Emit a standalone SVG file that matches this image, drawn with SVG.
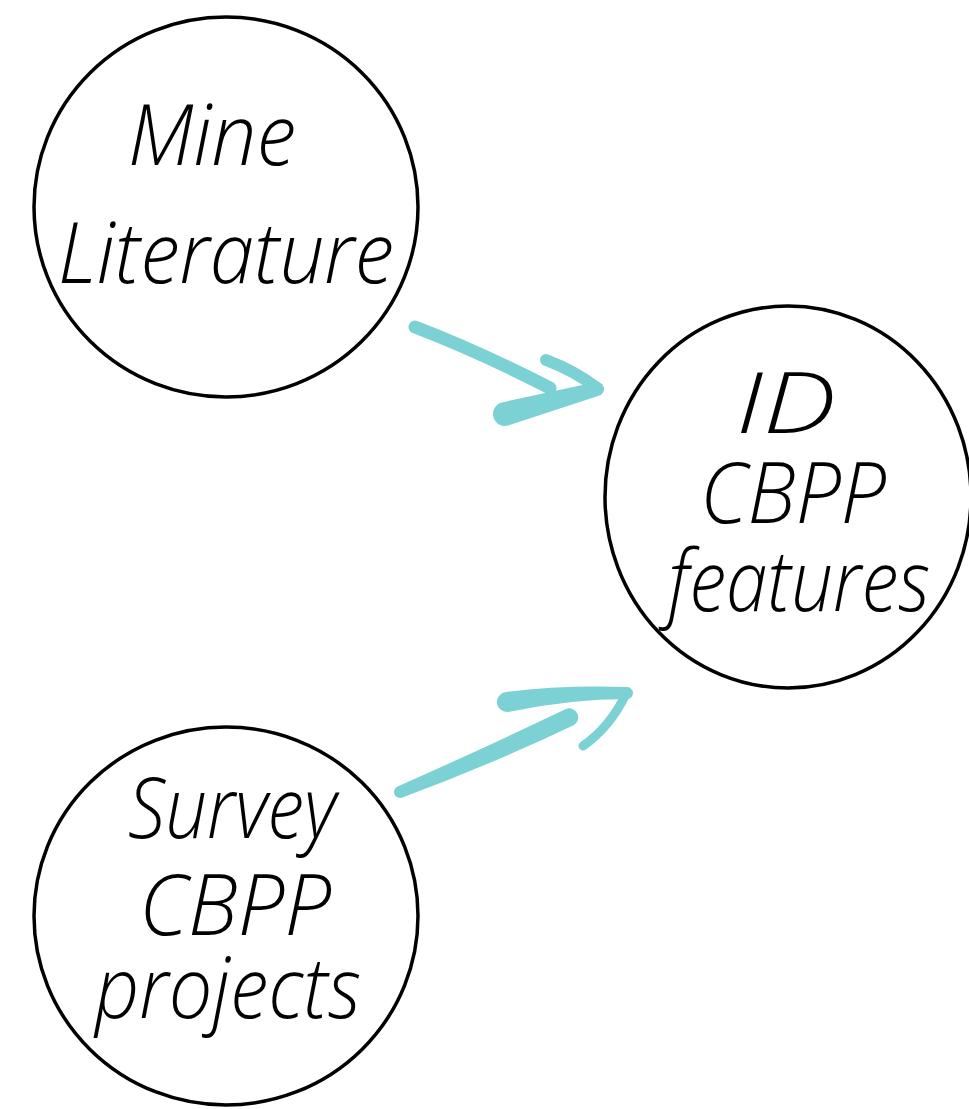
<svg xmlns="http://www.w3.org/2000/svg" width="969" height="1109" viewBox="0 0 969 1109">
<style>
.node{fill:#fff;stroke:#000;stroke-width:3.5}
.lbl{font-family:"Open Sans","Liberation Sans",sans-serif;font-style:italic;font-weight:300;font-size:84px;fill:#000;text-anchor:middle}
.ar{fill:#77d0d3;stroke:none}
.arl{fill:none;stroke:#77d0d3;stroke-linecap:round;stroke-linejoin:round}
</style>
<rect width="969" height="1109" fill="#fff"/>
<g id="node-mine">
<ellipse class="node" cx="226" cy="207" rx="192" ry="190"/>
<text class="lbl" x="212" y="165" textLength="168" lengthAdjust="spacingAndGlyphs">Mine</text>
<text class="lbl" x="226" y="283" textLength="336" lengthAdjust="spacingAndGlyphs">Literature</text>
</g>
<g id="node-id">
<ellipse class="node" cx="788" cy="497" rx="183" ry="191"/>
<text class="lbl" x="786" y="433" textLength="100" lengthAdjust="spacingAndGlyphs">ID</text>
<text class="lbl" x="793" y="523" textLength="186" lengthAdjust="spacingAndGlyphs">CBPP</text>
<text class="lbl" x="799" y="611" textLength="262" lengthAdjust="spacingAndGlyphs">features</text>
</g>
<g id="node-survey">
<ellipse class="node" cx="226" cy="916" rx="192" ry="189"/>
<text class="lbl" x="232" y="838" textLength="208" lengthAdjust="spacingAndGlyphs">Survey</text>
<text class="lbl" x="235" y="935" textLength="192" lengthAdjust="spacingAndGlyphs">CBPP</text>
<text class="lbl" x="228" y="1018" textLength="266" lengthAdjust="spacingAndGlyphs">projects</text>
</g>
<g id="connectors" opacity="0.97">
<path class="arl" stroke-width="13" d="M415,327 Q480,352 550,388"/>
<path class="arl" stroke-width="12" d="M546,360 Q575,371 597,388"/>
<path class="ar" d="M501.9,402.4 L595.2,382.2 A7,7 0 0 1 598.8,395.8 L508.1,425.6 A12,12 0 0 1 501.9,402.4 Z"/>
<path class="ar" d="M397.6,786.5 Q480,750 566.4,708.8 A9,9 0 0 1 573.6,725.2 Q490,765 402.4,797.5 A6,6 0 0 1 397.6,786.5 Z"/>
<path class="ar" d="M506.25,692 Q560,685 626.55,687 A6,6 0 0 1 627.45,699 Q570,699 507.75,712 A10,10 0 0 1 506.25,692 Z"/>
<path class="arl" stroke-width="9" d="M626,694 Q610,727 583,746"/>
</g>
</svg>
